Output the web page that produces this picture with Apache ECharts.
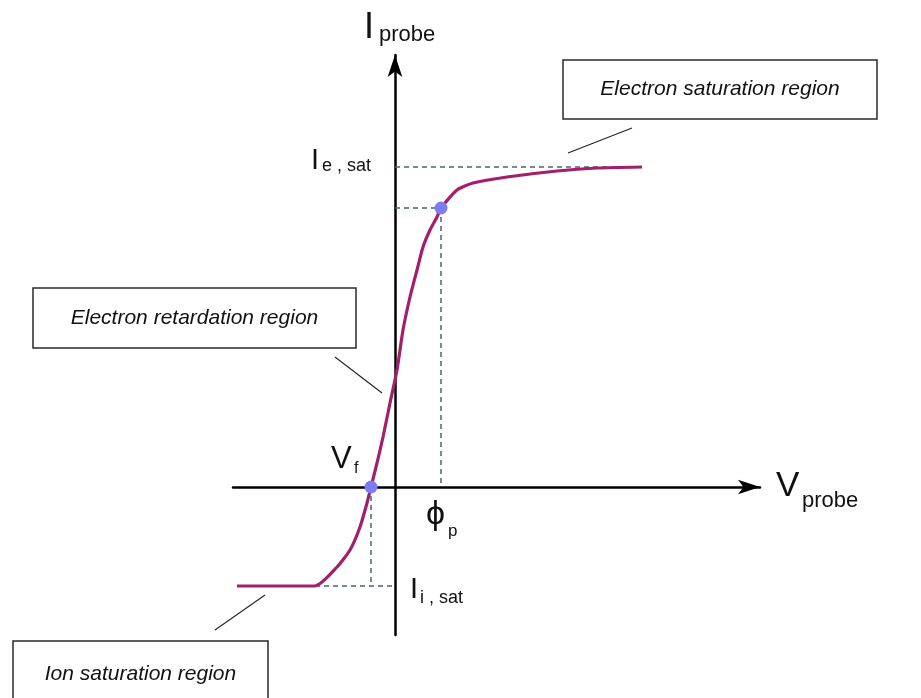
<!DOCTYPE html>
<html>
<head>
<meta charset="utf-8">
<script src="https://cdn.jsdelivr.net/npm/echarts@6/dist/echarts.min.js"></script>
<style>
  html, body { margin: 0; padding: 0; background: #ffffff; }
  #chart { width: 921px; height: 698px; }
</style>
</head>
<body>
<div id="chart"></div>
<script>
// Langmuir probe I-V characteristic (arbitrary units)
const probeV = [-15.8, -8.0, -5.8, -4.5, -3.5, -2.8, -2.4, -1.8, -1.2, -0.5, 0.2, 0.8, 1.5, 2.2, 2.8, 3.5, 4.2, 4.6, 6.2, 7.8, 11.2, 16.2, 20.2, 24.7];
const probeI = [-9.9, -9.9, -8.0, -6.3, -4.0, -1.6, 0.0, 2.4, 5.0, 8.4, 11.7, 15.7, 19.0, 21.7, 24.0, 25.7, 27.0, 27.9, 29.7, 30.4, 31.0, 31.6, 31.9, 32.0];

// Characteristic points
const floatingV = -2.4;      // V_f
const plasmaV = 4.6;         // phi_p
const plasmaI = 27.9;        // current at phi_p
const electronSatI = 32.0;   // I_e,sat
const ionSatI = -9.9;        // I_i,sat
const ionKneeV = -8.0;       // end of ion saturation plateau
const satGuideEndV = 24.7;   // end of I_e,sat guide

// Axis extents
const vMin = -16.2, vMax = 36.5;
const iMin = -14.8, iMax = 43.2;

const curve = probeV.map((v, k) => [v, probeI[k]]);

const guides = [
  [[0, electronSatI], [satGuideEndV, electronSatI]],
  [[0, plasmaI], [plasmaV, plasmaI]],
  [[plasmaV, plasmaI], [plasmaV, 0]],
  [[floatingV, 0], [floatingV, ionSatI]],
  [[ionKneeV, ionSatI], [0, ionSatI]]
];

const chart = echarts.init(document.getElementById('chart'), null, { renderer: 'canvas' });

const axisCommon = {
  type: 'value',
  axisLine: {
    show: true,
    onZero: true,
    symbol: ['none', 'arrow'],
    symbolSize: [11, 22],
    lineStyle: { color: '#000000', width: 2.5 }
  },
  axisTick: { show: false },
  axisLabel: { show: false },
  splitLine: { show: false }
};

chart.setOption({
  animation: false,
  backgroundColor: '#ffffff',
  grid: { left: 233, right: 161, top: 55, bottom: 63 },
  xAxis: Object.assign({}, axisCommon, { min: vMin, max: vMax }),
  yAxis: Object.assign({}, axisCommon, { min: iMin, max: iMax }),
  series: [
    {
      type: 'lines',
      coordinateSystem: 'cartesian2d',
      silent: true,
      z: 1,
      lineStyle: { color: '#466868', width: 1.5, type: [5, 4], opacity: 1 },
      data: guides.map(c => ({ coords: c }))
    },
    {
      type: 'line',
      data: curve,
      smooth: 0.2,
      showSymbol: false,
      z: 3,
      lineStyle: { color: '#a2206b', width: 3.2 }
    },
    {
      type: 'scatter',
      data: [[floatingV, 0], [plasmaV, plasmaI]],
      symbolSize: 13,
      z: 4,
      itemStyle: { color: '#7b7cf6', opacity: 1 }
    }
  ]
});

const px = (v, i) => chart.convertToPixel({ gridIndex: 0 }, [v, i]);

const FONT = '"Liberation Sans", Arial, sans-serif';
function label(x, y, str, size, extra) {
  return {
    type: 'text',
    x: x, y: y,
    z: 10,
    style: Object.assign({
      text: str,
      font: size + 'px ' + FONT,
      fill: '#111111',
      align: 'left',
      verticalAlign: 'middle'
    }, extra || {})
  };
}
function box(x, y, w, h, str) {
  return {
    type: 'group',
    z: 10,
    children: [
      {
        type: 'rect',
        shape: { x: x, y: y, width: w, height: h },
        style: { fill: '#ffffff', stroke: '#2a2a2a', lineWidth: 1.5 }
      },
      {
        type: 'text',
        x: x + w / 2, y: y + h / 2,
        style: {
          text: str,
          font: 'italic 21px ' + FONT,
          fill: '#111111',
          align: 'center',
          verticalAlign: 'middle'
        }
      }
    ]
  };
}
function leader(a, b) {
  return {
    type: 'line',
    z: 9,
    shape: { x1: a[0], y1: a[1], x2: b[0], y2: b[1] },
    style: { stroke: '#222222', lineWidth: 1.1 }
  };
}

const yTop = px(0, iMax);
const xEnd = px(vMax, 0);
const vf = px(floatingV, 0);
const phi = px(plasmaV, 0);
const ie = px(0, electronSatI);
const ii = px(0, ionSatI);

chart.setOption({
  graphic: [
    // axis titles
    label(yTop[0] - 31, yTop[1] - 27, 'I', 36),
    label(yTop[0] - 16, yTop[1] - 20, 'probe', 22),
    label(xEnd[0] + 16, xEnd[1] - 1, 'V', 35),
    label(xEnd[0] + 42, xEnd[1] + 14, 'probe', 22),
    // characteristic labels
    label(ie[0] - 84, ie[1] - 6, 'I', 29),
    label(ie[0] - 73, ie[1] - 1, 'e , sat', 18),
    label(vf[0] - 40, vf[1] - 28, 'V', 31),
    label(vf[0] - 17, vf[1] - 18, 'f', 16),
    label(phi[0] - 15, phi[1] + 28, '\u03D5', 34),
    label(phi[0] + 7, phi[1] + 44, 'p', 17),
    label(ii[0] + 15, ii[1] + 4, 'I', 29),
    label(ii[0] + 25, ii[1] + 12, 'i , sat', 18),
    // region annotations
    box(563, 60, 314, 59, 'Electron saturation region'),
    box(33, 288, 323, 60, 'Electron retardation region'),
    box(13, 641, 255, 66, 'Ion saturation region'),
    leader([568, 153], [632, 128]),
    leader([335, 357], [382, 393]),
    leader([215, 630], [265, 595])
  ]
});
</script>
</body>
</html>
